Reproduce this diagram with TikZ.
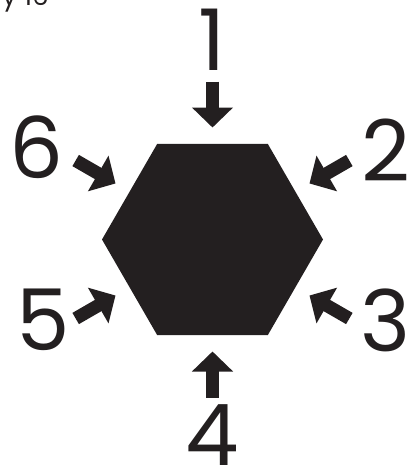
\documentclass[tikz,border=0pt]{standalone}
\usepackage{fontspec}
\setmainfont{Poppins}
\usepackage{tikz}
\usetikzlibrary{arrows.meta, shapes.geometric, calc}
\definecolor{inkBlack}{HTML}{231F20}
\tikzset{
  hexshape/.style={regular polygon, regular polygon sides=6, minimum size=221pt,
    inner sep=0pt, outer sep=0pt, fill=inkBlack},
  blockarrow/.style={-{Triangle[length=20pt, width=40pt]}, line width=13pt, draw=inkBlack},
  digit/.style={font=\fontsize{85}{85}\selectfont, text=inkBlack, inner sep=0pt}
}

\begin{document}
\begin{tikzpicture}[x=1pt, y=-1pt]
  \useasboundingbox (0,0) rectangle (415,472);
  % heading, cut off by the top edge
  \begin{scope}
    \clip (0,0) rectangle (415,472);
    \node[font=\fontsize{26}{26}\selectfont, text=inkBlack, inner sep=0pt, anchor=base west]
      (heading) at (2,5) {y 16};
  \end{scope}

  % the hexagon
  \node[hexshape] (hex) at (212.5,239.5) {};

  % side numbers
  \foreach \n/\x/\y in {1/212/39.5, 2/386/150, 3/386/320, 4/212/435, 5/43/320, 6/36/147} {
    \node[digit] (num\n) at (\x,\y) {\n};
  }

  % arrows onto the sides (tail 158pt, tip 112pt from the centre)
  \foreach \n/\ang in {1/90, 2/30, 3/-30, 4/-90, 5/-150, 6/150} {
    \coordinate (tail\n) at ($(hex.center)+(\ang:158pt)$);
    \coordinate (tip\n) at ($(hex.center)+(\ang:112pt)$);
    \draw[blockarrow] (tail\n) -- (tip\n);
  }
\end{tikzpicture}
\end{document}
